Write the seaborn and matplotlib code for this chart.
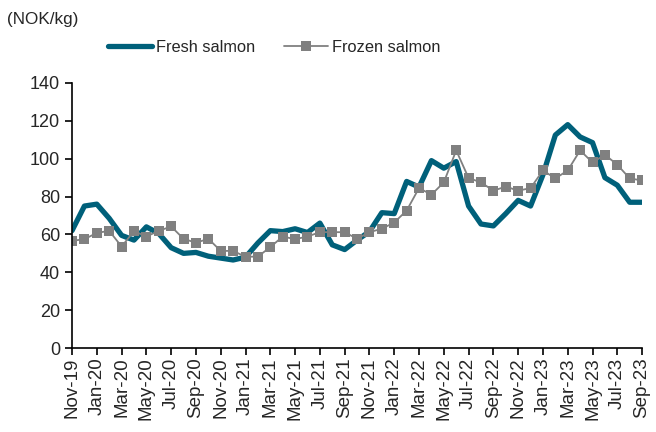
import numpy as np
import pandas as pd
import matplotlib
matplotlib.use("Agg")
import matplotlib.pyplot as plt
import seaborn as sns

months = pd.date_range("2019-11-01", "2023-09-01", freq="MS")
month_labels = [m.strftime("%b-%y") for m in months]

fresh = [62, 75, 76, 68.5, 59.5, 57, 64, 60.5, 53, 50, 50.5, 48.5, 47.5, 46.5,
         48, 55.5, 62, 61.5, 63, 61, 66, 54.5, 52, 57, 61.5, 71.5, 71, 88, 85,
         99, 95, 98.5, 75, 65.5, 64.5, 71, 78, 75, 91.5, 112.5, 118, 111.5,
         108.5, 90, 86, 77, 77]
frozen = [56.6, 57.5, 60.8, 61.9, 53.6, 61.7, 58.9, 61.9, 64.2, 57.7, 55.6,
          57.7, 51.3, 51.3, 48.2, 48.3, 53.3, 58.9, 57.5, 58.9, 61.2, 61.2,
          61.2, 57.7, 61.2, 63.0, 66.3, 72.6, 84.5, 81.0, 87.5, 104.4, 89.8,
          87.5, 83.1, 85.3, 83.1, 84.5, 93.8, 89.6, 93.8, 104.4, 98.0, 102.1,
          96.8, 89.6, 88.5]

df = pd.DataFrame({"idx": np.arange(len(months)), "Fresh salmon": fresh,
                   "Frozen salmon": frozen})

sns.set_style("ticks")
plt.rcParams["font.family"] = ["Liberation Sans", "DejaVu Sans"]

fig = plt.figure(figsize=(6.56, 4.32), dpi=100)
ax = fig.add_axes([0.1098, 0.1944, 0.869, 0.6135])

sns.lineplot(data=df, x="idx", y="Fresh salmon", ax=ax, color="#00607a",
             linewidth=3.8, label="Fresh salmon")
sns.lineplot(data=df, x="idx", y="Frozen salmon", ax=ax, color="#808080",
             linewidth=1.3, marker="s", markersize=6.5, markeredgewidth=0,
             label="Frozen salmon")

ax.set_xlim(0, len(months) - 1)
ax.set_ylim(0, 140)
ax.set_yticks(range(0, 141, 20))
ax.set_xticks(range(0, len(months), 2))
ax.set_xticklabels(month_labels[::2], rotation=90)
ax.tick_params(axis="both", labelsize=13, length=5, width=1.2, color="black")
ax.tick_params(axis="x", labelsize=13.5, pad=2)
ax.set_xlabel("")
ax.set_ylabel("")
for s in ["top", "right"]:
    ax.spines[s].set_visible(False)
for s in ["left", "bottom"]:
    ax.spines[s].set_linewidth(1.2)
    ax.spines[s].set_color("black")

ax.legend(loc="center", bbox_to_anchor=(0.418, 0.891),
          bbox_transform=fig.transFigure, ncol=2, frameon=False,
          fontsize=11.8, handlelength=2.7, handletextpad=0.25,
          columnspacing=1.7)

fig.text(0.011, 0.954, "(NOK/kg)", fontsize=12.3, ha="left", va="center")

fig.savefig("out.png", dpi=100)
